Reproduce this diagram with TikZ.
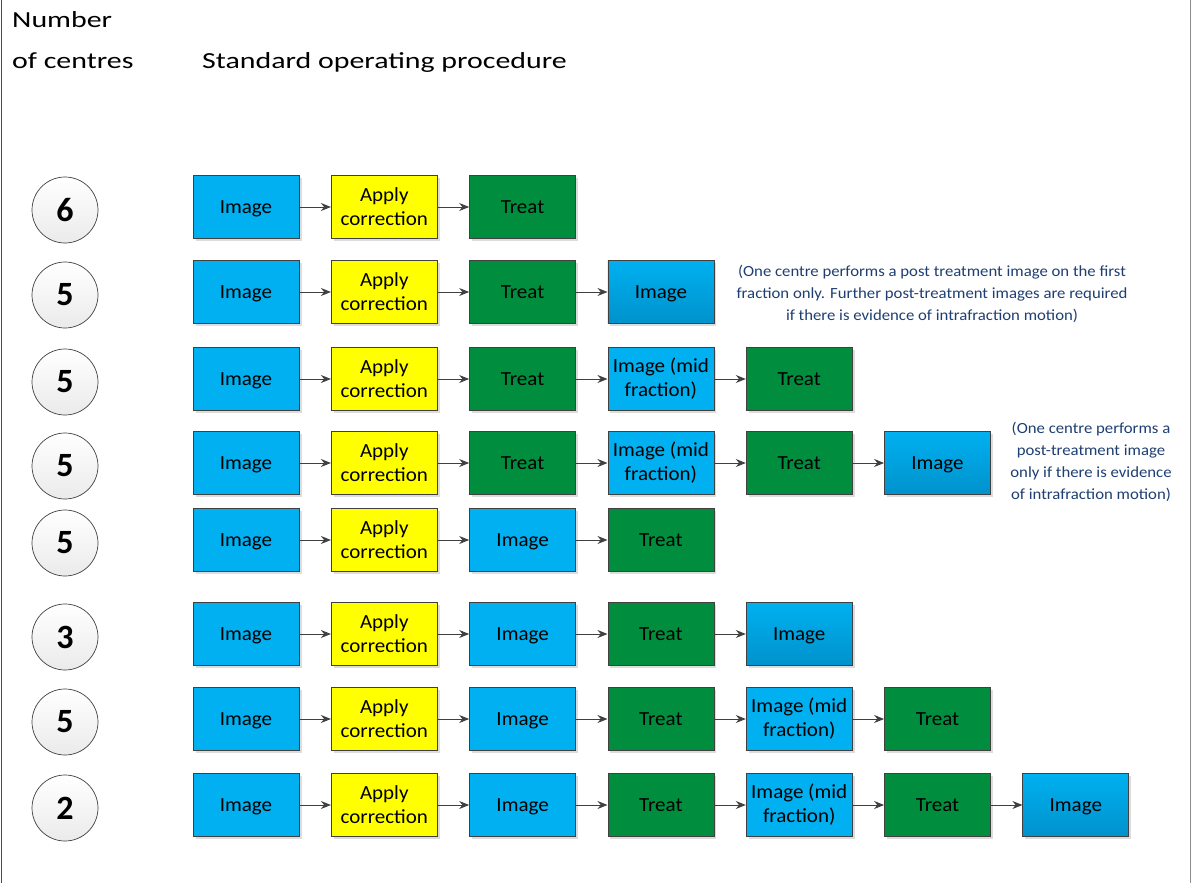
\documentclass[tikz,border=0pt]{standalone}
\usepackage{fontspec}
\setmainfont{Carlito}
\newfontfamily\headfont[FakeStretch=1.3]{Carlito}
\newfontfamily\boxfont[FakeStretch=1.05]{Carlito}
\newfontfamily\notefont[FakeStretch=1.08]{Carlito}
\usetikzlibrary{shadows,arrows.meta}
\definecolor{cyanbox}{HTML}{00B0F0}
\definecolor{cyandark}{HTML}{0092CC}
\definecolor{yellowbox}{HTML}{FFFF00}
\definecolor{greenbox}{HTML}{008E3E}
\definecolor{boxline}{HTML}{404040}
\definecolor{notecol}{HTML}{1F3F73}
\tikzset{
  box/.style={draw=boxline, line width=0.8pt, minimum width=106pt, minimum height=63pt,
    inner sep=1pt, align=center, font=\boxfont\fontsize{20}{24}\selectfont,
    drop shadow={shadow xshift=2.5pt, shadow yshift=-2.5pt, fill=black!30, opacity=0.45}},
  boxI/.style={box, fill=cyanbox, text depth=0pt, node contents={Image}},
  boxG/.style={box, top color=cyanbox, bottom color=cyandark, text depth=0pt, node contents={Image}},
  boxM/.style={box, fill=cyanbox, node contents={Image (mid\\fraction)}},
  boxA/.style={box, fill=yellowbox, node contents={Apply\\correction}},
  boxT/.style={box, fill=greenbox, node contents={Treat}},
  circ/.style={circle, draw=black!75, line width=0.7pt, minimum size=66pt, inner sep=0pt,
    top color=white, bottom color=black!8, font=\fontsize{34}{38}\selectfont\bfseries},
  conn/.style={draw=boxline, line width=1pt, -{Stealth[length=10pt,width=8pt]}},
  head/.style={anchor=base west, font=\headfont\fontsize{23}{27}\selectfont, inner sep=0pt},
  note/.style={text=notecol, align=center, font=\notefont\fontsize{15.5}{22}\selectfont, inner sep=0pt}
}
\begin{document}
\begin{tikzpicture}[x=1pt,y=-1pt]
\useasboundingbox (0,0) rectangle (1192,883);
\fill[white] (0,0) rectangle (1192,883);
\coordinate (lt) at (1.5,0); \coordinate (lb) at (1.5,883);
\coordinate (rt) at (1190.5,0); \coordinate (rb) at (1190.5,883);
\draw[black!70, line width=1pt] (lt) -- (lb);
\draw[black!45, line width=1pt] (rt) -- (rb);
\node[head] (h1) at (12,28) {Number};
\node[head] (h2) at (12,69) {of centres};
\node[head] (h3) at (202,69) {Standard operating procedure};
\foreach \r/\y/\num/\seq in {
  1/207/6/{boxI,boxA,boxT},
  2/292/5/{boxI,boxA,boxT,boxG},
  3/379/5/{boxI,boxA,boxT,boxM,boxT},
  4/463/5/{boxI,boxA,boxT,boxM,boxT,boxG},
  5/540/5/{boxI,boxA,boxI,boxT},
  6/634/3/{boxI,boxA,boxI,boxT,boxG},
  7/719/5/{boxI,boxA,boxI,boxT,boxM,boxT},
  8/805/2/{boxI,boxA,boxI,boxT,boxM,boxT,boxG}} {
  \node[circ] (c\r) at (65,\y+3) {\num};
  \foreach \s [count=\k] in \seq {
    \node (b\r-\k) at ({246+138.3*(\k-1)},\y) [\s];
    \ifnum\k>1
      \pgfmathtruncatemacro\prev{\k-1}
      \draw[conn] (b\r-\prev) -- (b\r-\k);
    \fi
  }
}
\node[note] (n1) at (932,294) {(One centre performs a post treatment image on the first\\fraction only. Further post-treatment images are required\\if there is evidence of intrafraction motion)};
\node[note] (n2) at (1091,462) {(One centre performs a\\post-treatment image\\only if there is evidence\\of intrafraction motion)};
\end{tikzpicture}
\end{document}
